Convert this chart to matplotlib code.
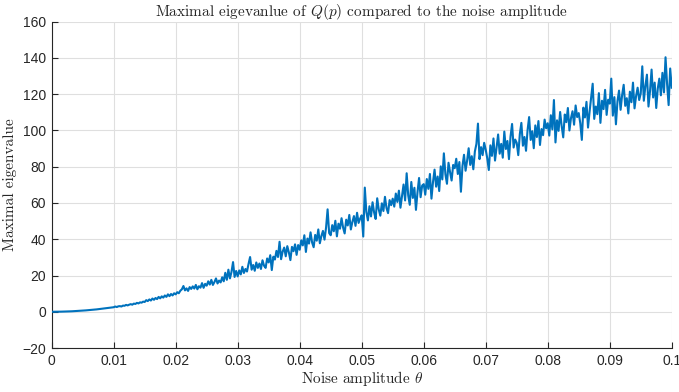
import numpy as np
import matplotlib
matplotlib.use("Agg")
import matplotlib.pyplot as plt

max_eig = [
    0, 0, 0.01, 0.01, 0.03, 0.04, 0.06, 0.08, 0.1, 0.13, 0.16, 0.19, 0.22, 0.26, 0.31, 0.35, 0.4, 0.45, 0.51, 0.56,
    0.63, 0.69, 0.76, 0.83, 0.9, 0.98, 1.06, 1.14, 1.22, 1.31, 1.42, 1.5, 1.6, 1.75, 1.8, 1.95, 2.05, 2.2, 2.25, 2.4,
    2.5, 2.9, 2.6, 3.0, 3.1, 2.9, 3.4, 3.3, 3.8, 3.5, 3.9, 4.2, 3.9, 4.5, 4.3, 4.9, 4.6, 5.2, 5.0, 5.6,
    5.4, 6.4, 5.9, 6.8, 6.2, 7.3, 6.6, 7.6, 7.0, 8.2, 7.4, 8.5, 7.8, 9.0, 8.2, 9.6, 8.6, 9.8, 9.0, 10.2,
    9.6, 10.8, 10.2, 11.6, 12.4, 14.2, 11.8, 12.9, 11.5, 13.6, 12.6, 14.0, 12.8, 14.8, 12.4, 14.1, 13.3, 15.8, 13.2, 15.4,
    14.4, 16.8, 15.0, 17.6, 14.8, 16.4, 18.4, 15.6, 17.2, 16.2, 19.0, 16.8, 21.5, 17.6, 23.2, 18.4, 22.0, 27.4, 19.2, 22.5,
    19.5, 22.8, 20.6, 24.8, 21.4, 23.6, 22.2, 26.4, 30.2, 23.2, 25.8, 22.6, 27.2, 24.2, 26.6, 23.6, 28.4, 25.4, 24.2, 29.4,
    27.2, 31.2, 23.0, 30.4, 28.8, 33.6, 30.2, 38.6, 29.0, 33.2, 35.4, 30.6, 36.2, 32.8, 28.5, 35.8, 33.4, 37.2, 31.4, 36.8,
    34.2, 39.4, 36.6, 42.2, 33.0, 40.4, 37.6, 43.8, 38.2, 35.6, 42.4, 39.2, 45.4, 37.8, 41.8, 44.6, 39.8, 46.4, 56.5, 43.4,
    42.2, 47.8, 44.4, 50.2, 41.6, 48.6, 45.8, 51.6, 46.4, 43.2, 50.8, 47.6, 53.4, 45.4, 49.6, 52.8, 47.4, 54.6, 49.0, 51.4,
    53.2, 41.5, 68.5, 55.0, 50.4, 58.2, 52.6, 60.4, 54.8, 51.2, 62.6, 56.4, 53.0, 59.8, 55.6, 63.4, 57.2, 54.4, 61.6, 58.8,
    62.4, 58.0, 65.2, 60.6, 66.8, 57.4, 63.6, 70.2, 61.4, 76.4, 64.2, 59.0, 71.6, 62.8, 68.4, 56.2, 66.0, 73.8, 63.2, 69.6,
    70.4, 64.6, 73.2, 67.8, 76.0, 62.4, 71.6, 78.4, 69.0, 74.6, 66.6, 80.2, 73.0, 87.4, 75.8, 70.6, 82.2, 77.0, 72.4, 81.0,
    79.2, 84.4, 76.0, 82.6, 66.2, 80.4, 86.6, 77.8, 83.4, 90.2, 81.0, 85.8, 78.6, 88.4, 92.6, 103.8, 84.2, 90.8, 86.4, 93.2,
    89.4, 84.6, 78.2, 91.8, 86.0, 95.6, 83.4, 90.4, 97.8, 87.2, 92.6, 85.0, 99.4, 89.8, 94.2, 84.2, 96.6, 103.6, 90.6, 95.0,
    93.2, 86.4, 98.0, 104.2, 91.6, 96.4, 88.8, 100.2, 107.4, 94.8, 99.6, 90.2, 102.8, 96.4, 105.2, 92.0, 100.8, 97.4, 106.0, 101.2,
    104.0, 97.2, 108.4, 100.6, 116.8, 93.4, 105.6, 99.8, 110.2, 102.4, 96.2, 108.8, 104.6, 112.4, 100.0, 106.8, 110.6, 103.2, 113.8, 107.4,
    109.6, 104.0, 94.8, 112.6, 107.2, 115.8, 101.6, 110.4, 118.2, 125.8, 106.4, 113.2, 109.0, 120.6, 104.2, 116.4, 111.8, 122.4, 108.6, 117.0,
    114.8, 128.6, 108.2, 118.4, 103.4, 116.2, 122.0, 111.4, 119.6, 125.2, 113.6, 117.8, 109.4, 121.4, 115.6, 126.4, 112.2, 119.0, 123.6, 116.8,
    120.4, 135.4, 116.4, 124.6, 130.8, 113.2, 121.8, 133.6, 118.2, 126.4, 112.4, 123.2, 128.6, 119.4, 131.8, 121.0, 140.4, 125.6, 114.0, 134.2,
    123.6,
]
theta = np.linspace(0, 0.1, len(max_eig))

x_ticks = [0, 0.01, 0.02, 0.03, 0.04, 0.05, 0.06, 0.07, 0.08, 0.09, 0.1]
x_tick_labels = ["0", "0.01", "0.02", "0.03", "0.04", "0.05", "0.06", "0.07", "0.08", "0.09", "0.1"]
y_ticks = [-20, 0, 20, 40, 60, 80, 100, 120, 140, 160]

plt.rcParams["font.family"] = ["Liberation Sans", "DejaVu Sans"]
plt.rcParams["mathtext.fontset"] = "cm"

fig = plt.figure(figsize=(6.79, 3.92), dpi=100)
ax = fig.add_axes([0.0761, 0.1122, 0.9132, 0.8324])

ax.plot(theta, max_eig, color="#0072BD", linewidth=1.5, zorder=3)

ax.set_xlim(0, 0.1)
ax.set_ylim(-20, 160)
ax.set_xticks(x_ticks)
ax.set_xticklabels(x_tick_labels)
ax.set_yticks(y_ticks)

ax.grid(True, color="#DFDFDF", linewidth=0.8, zorder=0)
ax.set_axisbelow(True)
for side in ["top", "right"]:
    ax.spines[side].set_visible(False)
for side in ["left", "bottom"]:
    ax.spines[side].set_color("#262626")
    ax.spines[side].set_linewidth(0.8)
ax.tick_params(direction="in", length=4, width=0.8, colors="#262626", labelsize=10, pad=4)

serif = dict(family="cmr10", color="#262626")
ax.set_title(r"Maximal eigevanlue of $Q(p)$ compared to the noise amplitude",
             fontsize=11, pad=4, **serif)
ax.set_xlabel(r"Noise amplitude $\theta$", fontsize=11, labelpad=1, **serif)
ax.set_ylabel("Maximal eigenvalue", fontsize=11, labelpad=4, **serif)

fig.savefig("out.png", dpi=100)
